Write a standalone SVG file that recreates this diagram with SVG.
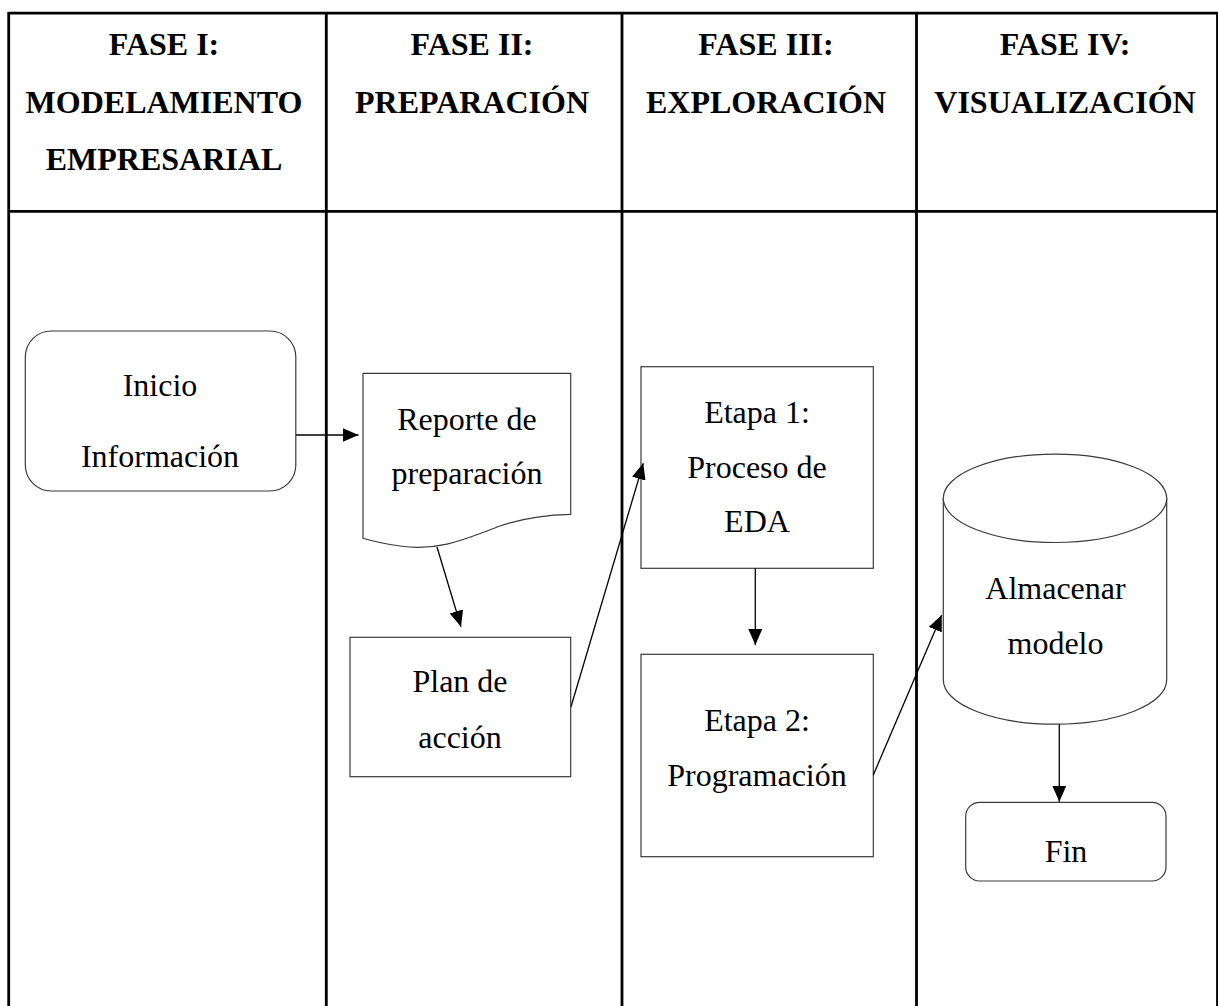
<svg xmlns="http://www.w3.org/2000/svg" width="1218" height="1006" viewBox="0 0 1218 1006">
<defs>
<style>
.grid{stroke:#000;stroke-width:2.8;fill:none}
.shape{fill:#fff;stroke:#3a3a3a;stroke-width:1.2}
.conn{stroke:#000;stroke-width:1.3;fill:none}
.h{font-family:"Liberation Serif","Times New Roman",serif;font-weight:bold;font-size:32px;fill:#000;text-anchor:middle}
.t{font-family:"Liberation Serif","Times New Roman",serif;font-size:32px;fill:#000;text-anchor:middle}
</style>
<marker id="ah" viewBox="0 0 16 14" refX="16" refY="7" markerWidth="16" markerHeight="14" orient="auto" markerUnits="userSpaceOnUse">
<path d="M0,0 L16,7 L0,14 z" fill="#000"/>
</marker>
</defs>
<rect width="1218" height="1006" fill="#fff"/>
<g id="table">
<line class="grid" x1="8.7" y1="13.2" x2="1217.5" y2="13.2"/>
<line class="grid" x1="8.7" y1="211.3" x2="1217.5" y2="211.3"/>
<line class="grid" x1="8.7" y1="12" x2="8.7" y2="1006"/>
<line class="grid" x1="326.3" y1="12" x2="326.3" y2="1006"/>
<line class="grid" x1="622" y1="12" x2="622" y2="1006"/>
<line class="grid" x1="916.5" y1="12" x2="916.5" y2="1006"/>
<line class="grid" x1="1217.5" y1="12" x2="1217.5" y2="1006"/>
</g>
<g id="headers">
<text class="h" x="164" y="55">FASE I:</text>
<text class="h" x="164" y="113">MODELAMIENTO</text>
<text class="h" x="164" y="170">EMPRESARIAL</text>
<text class="h" x="472" y="55">FASE II:</text>
<text class="h" x="472" y="113">PREPARACIÓN</text>
<text class="h" x="766" y="55">FASE III:</text>
<text class="h" x="766" y="113">EXPLORACIÓN</text>
<text class="h" x="1065" y="55">FASE IV:</text>
<text class="h" x="1065" y="113">VISUALIZACIÓN</text>
</g>
<g id="inicio">
<rect class="shape" x="25.3" y="331" width="270.5" height="160" rx="26" ry="26"/>
<text class="t" x="160" y="396">Inicio</text>
<text class="t" x="160" y="466.5">Información</text>
</g>
<g id="reporte">
<path class="shape" d="M363,373.3 L570.7,373.3 L570.7,514.3 C540,515 520,519 500,526 C470,537 440,552 400,546 C385,544 372,541 363,538.3 Z"/>
<text class="t" x="467" y="430">Reporte de</text>
<text class="t" x="467" y="483.5">preparación</text>
</g>
<g id="plan">
<rect class="shape" x="350" y="637.3" width="220.7" height="139.4"/>
<text class="t" x="460" y="691.7">Plan de</text>
<text class="t" x="460" y="748.3">acción</text>
</g>
<g id="etapa1">
<rect class="shape" x="641" y="366.7" width="232.3" height="201.6"/>
<text class="t" x="757" y="422.7">Etapa 1:</text>
<text class="t" x="757" y="477.7">Proceso de</text>
<text class="t" x="757" y="532.3">EDA</text>
</g>
<g id="etapa2">
<rect class="shape" x="641" y="654.3" width="232.3" height="202.4"/>
<text class="t" x="757" y="730.7">Etapa 2:</text>
<text class="t" x="757" y="786">Programación</text>
</g>
<g id="almacenar">
<path class="shape" d="M943.3,498.3 A111.7,44.2 0 0 1 1166.7,498.3 L1166.7,680 A111.7,44.2 0 0 1 943.3,680 Z"/>
<path class="shape" fill="none" d="M943.3,498.3 A111.7,44.2 0 0 0 1166.7,498.3"/>
<text class="t" x="1055.5" y="599">Almacenar</text>
<text class="t" x="1055.5" y="654.3">modelo</text>
</g>
<g id="fin">
<rect class="shape" x="965.7" y="802.3" width="200.3" height="78.7" rx="14" ry="14"/>
<text class="t" x="1066" y="861.7">Fin</text>
</g>
<g id="connectors">
<line class="conn" x1="296" y1="435" x2="358.5" y2="435" marker-end="url(#ah)"/>
<line class="conn" x1="437" y1="547" x2="461" y2="626.7" marker-end="url(#ah)"/>
<line class="conn" x1="571" y1="706.7" x2="643.3" y2="463.3" marker-end="url(#ah)"/>
<line class="conn" x1="755.3" y1="568.3" x2="755.3" y2="645" marker-end="url(#ah)"/>
<path class="conn" d="M873.3,775 Q905,700 941.7,615" marker-end="url(#ah)"/>
<line class="conn" x1="1059.3" y1="724.3" x2="1059.3" y2="801.7" marker-end="url(#ah)"/>
</g>
</svg>
